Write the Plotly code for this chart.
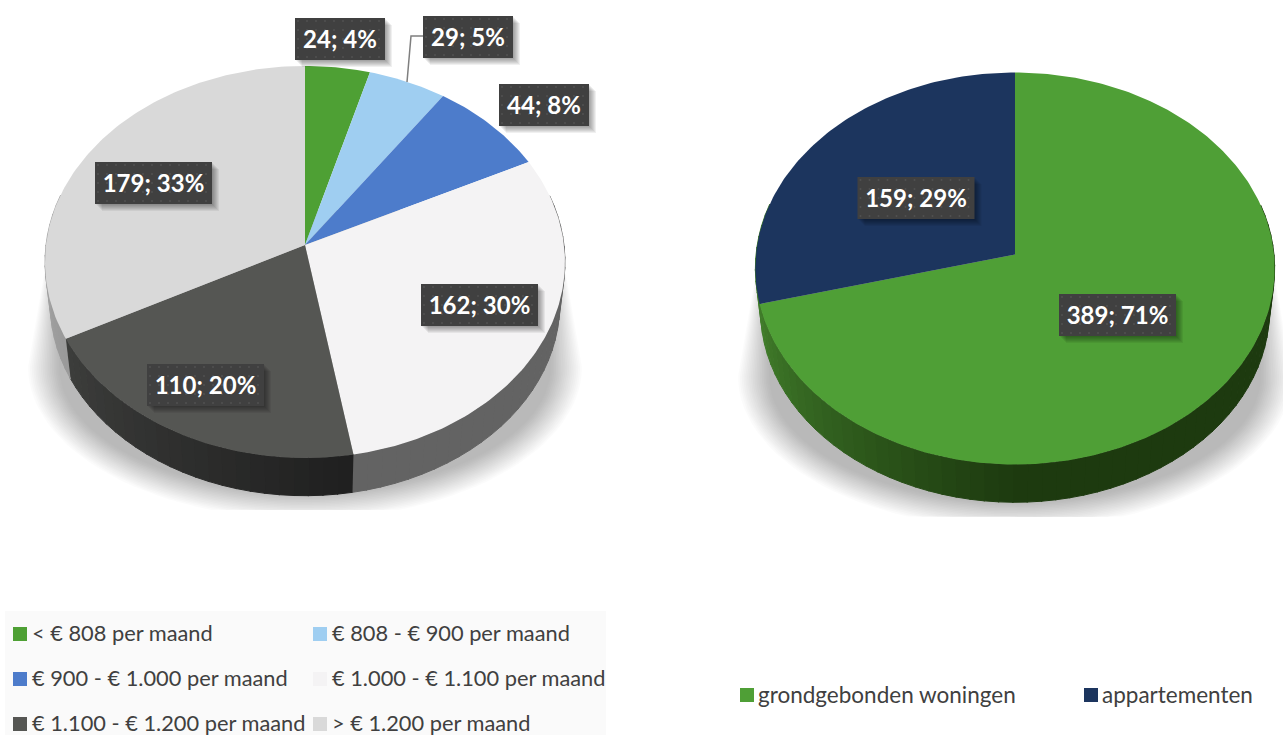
import numpy as np
import plotly.graph_objects as go

# ---- data ----
rent_categories = ["< € 808 per maand", "€ 808 - € 900 per maand", "€ 900 - € 1.000 per maand",
                   "€ 1.000 - € 1.100 per maand", "€ 1.100 - € 1.200 per maand", "> € 1.200 per maand"]
rent_values = [24, 29, 44, 162, 110, 179]
type_categories = ["grondgebonden woningen", "appartementen"]
type_values = [389, 159]

# ---- styles / layout ----
rent_colors = ["#4EA034", "#9FCEF1", "#4D7CCB", "#F4F3F4", "#555653", "#D9D9D9"]
type_colors = ["#4F9F36", "#1C355E"]
# wall colour per slice: colour at the gradient start, colour at slice end, gradient start angle (deg)
rent_walls = [("#2f6020", "#2f6020", 0), ("#6f8ea8", "#6f8ea8", 0), ("#30507f", "#30507f", 0),
              ("#636363", "#636363", 0), ("#1F1F1F", "#3D3E3C", 170), ("#999999", "#C8C8C8", 242)]
type_walls = [("#1D3A0F", "#407C2A", 180), ("#407C2A", "#407C2A", 0)]

LEFT = dict(cx=305, cy=245, A=259, B=194.5, k=0.0867, clip=510)
RIGHT = dict(cx=1015, cy=254.5, A=259, B=195, k=0.0714, clip=517)
RIM_SCALE, RIM_SHIFT = 0.98, 42

rent_boxes = [(295, 18, 90), (423, 16, 90), (499, 84, 90), (421, 284, 117), (147, 364, 117), (95, 162, 117)]
type_boxes = [(1059, 294, 117), (857.5, 177, 117)]
BOX_H = 42
INK = "#404040"
FONT = "Lato"

fig = go.Figure()


def poly(xs, ys, color, line=False):
    fig.add_trace(go.Scatter(x=list(xs), y=list(ys), mode="lines", fill="toself", fillcolor=color,
                             line=dict(width=1 if line else 0, color=color), hoverinfo="skip", showlegend=False))


def project(g, th, scale=1.0, shift=0.0):
    X, Y = np.sin(th), np.cos(th)
    d = 1 + g["k"] * Y
    return g["cx"] + scale * g["A"] * X / d, g["cy"] - scale * g["B"] * Y / d + shift


def mix(a, b, t):
    ca = [int(a[i:i + 2], 16) for i in (1, 3, 5)]
    cb = [int(b[i:i + 2], 16) for i in (1, 3, 5)]
    return "#%02x%02x%02x" % tuple(int(round(p + (q - p) * t)) for p, q in zip(ca, cb))


def draw_shadow(g):
    cx, clip = g["cx"], g["clip"]
    t = np.linspace(0, np.pi, 60)
    n = 18
    for i in range(n):
        w = i / (n - 1)
        half = 246 + 31 * w
        ry = 126 + 26 * w
        xs = cx + half * np.cos(t)
        ys = np.minimum(g["cy"] + 122 + ry * np.sin(t), clip)
        xs = np.r_[cx + 250, xs, cx - 250]
        ys = np.r_[g["cy"] - 35, ys, g["cy"] - 35]
        poly(xs, ys, "rgba(0,0,0,0.014)")


def draw_pie(g, values, colors, walls):
    frac = np.cumsum([0] + list(values)) / sum(values) * 2 * np.pi
    # side wall, lower half only
    lo, hi = np.radians(75), np.radians(285)
    for i in range(len(values)):
        a, b = max(frac[i], lo), min(frac[i + 1], hi)
        if b <= a:
            continue
        start = max(np.radians(walls[i][2]), a)
        steps = max(2, int((b - a) / np.radians(3)))
        edges = np.linspace(a, b, steps + 1)
        for j in range(steps):
            th = np.linspace(edges[j], edges[j + 1] + 0.004, 4)
            x0, y0 = project(g, th)
            x1, y1 = project(g, th[::-1], RIM_SCALE, RIM_SHIFT)
            t = np.clip(((edges[j] + edges[j + 1]) / 2 - start) / max(frac[i + 1] - start, 1e-6), 0, 1)
            poly(np.r_[x0, x1], np.r_[y0, y1], mix(walls[i][0], walls[i][1], t), line=True)
    # top faces
    for i in range(len(values)):
        th = np.linspace(frac[i], frac[i + 1], max(6, int((frac[i + 1] - frac[i]) * 60)))
        x, y = project(g, th)
        poly(np.r_[g["cx"], x, g["cx"]], np.r_[g["cy"], y, g["cy"]], colors[i])


def draw_labels(values, boxes):
    total = sum(values)
    for v, (x, y, w) in zip(values, boxes):
        for s in range(1, 8):
            poly([x + s, x + w + s, x + w + s, x + s, x + s],
                 [y + s, y + s, y + BOX_H + s, y + BOX_H + s, y + s], "rgba(0,0,0,0.06)")
    for v, (x, y, w) in zip(values, boxes):
        poly([x, x + w, x + w, x, x], [y, y, y + BOX_H, y + BOX_H, y], "#404040")
        gx, gy = np.meshgrid(np.arange(x + 3, x + w, 9), np.arange(y + 3, y + BOX_H, 9))
        fig.add_trace(go.Scatter(x=gx.ravel(), y=gy.ravel(), mode="markers",
                                 marker=dict(size=2, color="#515151"), hoverinfo="skip", showlegend=False))
        fig.add_trace(go.Scatter(x=[x + w / 2], y=[y + BOX_H / 2 + 3], mode="text",
                                 text=[f"{v}; {round(100 * v / total)}%"], textposition="middle center",
                                 textfont=dict(family=FONT, size=24, color="white", weight="bold"),
                                 hoverinfo="skip", showlegend=False))


def draw_legend(names, colors, xs, ys, text_dx, size):
    for n, c, x, y in zip(names, colors, xs, ys):
        fig.add_trace(go.Scatter(x=[x], y=[y], mode="markers",
                                 marker=dict(symbol="square", size=14, color=c, line=dict(width=0)),
                                 hoverinfo="skip", showlegend=False))
        fig.add_trace(go.Scatter(x=[x + text_dx], y=[y + 2], mode="text", text=[n], textposition="middle right",
                                 textfont=dict(family=FONT, size=size, color=INK), hoverinfo="skip", showlegend=False))


draw_shadow(LEFT)
draw_pie(LEFT, rent_values, rent_colors, rent_walls)
draw_shadow(RIGHT)
draw_pie(RIGHT, type_values, type_colors, type_walls)

# leader line of the second label
fig.add_trace(go.Scatter(x=[407, 411, 423], y=[82, 36, 36], mode="lines", line=dict(color="#7F7F7F", width=1.5),
                         hoverinfo="skip", showlegend=False))
draw_labels(rent_values, rent_boxes)
draw_labels(type_values, type_boxes)

# legend panel + entries
poly([5, 606, 606, 5, 5], [611, 611, 735, 735, 611], "#FAFAFA")
draw_legend(rent_categories, rent_colors, [20, 320, 20, 320, 20, 320], [634, 634, 679, 679, 724, 724], 12, 21.8)
draw_legend(type_categories, type_colors, [747, 1091], [695, 695], 11, 22.5)

fig.update_xaxes(range=[0, 1283], visible=False, fixedrange=True)
fig.update_yaxes(range=[735, 0], visible=False, fixedrange=True)
fig.update_layout(width=1283, height=735, margin=dict(l=0, r=0, t=0, b=0), showlegend=False,
                  plot_bgcolor="white", paper_bgcolor="white", font=dict(family=FONT))
fig.write_html("out.html", config=dict(displayModeBar=False),
               post_script="document.body.style.margin='0';document.body.style.overflow='hidden';")
